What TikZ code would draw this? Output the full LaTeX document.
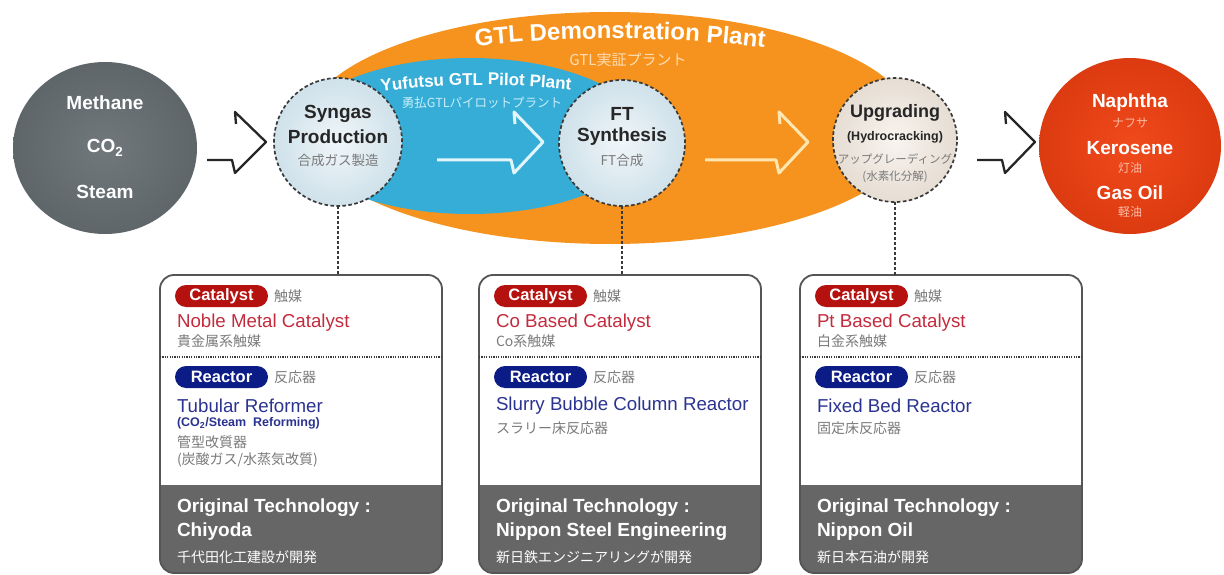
\documentclass[tikz,border=0pt]{standalone}
\usepackage{fontspec}
\setmainfont{Liberation Sans}
\newfontfamily\jp{Noto Sans CJK JP}
\usetikzlibrary{shapes.geometric,decorations.text}
\newcommand\fsz[1]{\fontsize{#1}{#1}\selectfont}

\definecolor{orangeC}{HTML}{F6931E}
\definecolor{blueC}{HTML}{36ADD6}
\definecolor{srcIn}{HTML}{70787C}
\definecolor{srcOut}{HTML}{5E666A}
\definecolor{prodIn}{HTML}{F04A1C}
\definecolor{prodOut}{HTML}{DC3A10}
\definecolor{stageIn}{HTML}{F0F6F9}
\definecolor{stageOut}{HTML}{CFE1EA}
\definecolor{upgIn}{HTML}{F8F4EF}
\definecolor{upgOut}{HTML}{E6DDD3}
\definecolor{dashC}{HTML}{3A3A3A}
\definecolor{darkTxt}{HTML}{262626}
\definecolor{jpGray}{HTML}{7A7A7A}
\definecolor{pillRed}{HTML}{B5120F}
\definecolor{pillBlue}{HTML}{0B1C86}
\definecolor{txtRed}{HTML}{C42B3D}
\definecolor{txtBlue}{HTML}{2B3391}
\definecolor{bandC}{HTML}{666666}
\definecolor{boxC}{HTML}{555555}
\definecolor{arrowBlue}{HTML}{E2F5FB}
\definecolor{arrowCream}{HTML}{FEE6B0}
\definecolor{jpCream}{HTML}{FDDDB4}
\definecolor{jpCyan}{HTML}{C8EEF9}
\definecolor{jpSalmon}{HTML}{F9BBA3}

% open (hollow) process arrow: style, shaft start, head base, tip
\newcommand\hollowarrow[4]{%
  \draw[#1] (#2,160) -- (#3,160) -- (#3+3,173) -- (#4,142) -- (#3+3,112) -- (#3+4,124);}

% technology box with dark footer band and dotted divider
\newcommand\techbox[2]{%
  \node[box] (#1) at (#2,275) {};
  \begin{scope}
    \clip[rounded corners=14pt] (#1.north west) rectangle (#1.south east);
    \fill[bandC] (#1.south west) rectangle ([yshift=88pt]#1.south east);
  \end{scope}
  \draw[boxC, line width=1.8pt, rounded corners=14pt] (#1.north west) rectangle (#1.south east);
  \draw[dashC, line width=1.1pt, dash pattern=on 1.2pt off 1.2pt] (#1.west |- 0,357) -- (#1.east |- 0,357);}

\begin{document}
\begin{tikzpicture}[x=1pt,y=-1pt,
  every node/.style={inner sep=0pt, outer sep=0pt},
  stage/.style={circle, draw=dashC, line width=1.7pt, dash pattern=on 3.6pt off 2.4pt,
    shading=radial, minimum size=#1},
  ctitle/.style={font=\bfseries\fsz{19}, text=darkTxt},
  wtitle/.style={font=\bfseries\fsz{19}, text=white},
  cjp/.style={font=\jp\fsz{13.5}, text=jpGray},
  box/.style={fill=white, minimum width=282pt, minimum height=298pt, anchor=north west},
  pill/.style={rounded corners=11pt, fill=#1, minimum width=93pt, minimum height=22pt,
    text=white, font=\bfseries\fsz{16.5}, anchor=west},
  bjp/.style={font=\jp\fsz{14}, text=jpGray, anchor=west},
  redline/.style={font=\fsz{18.7}, text=txtRed, anchor=west},
  blueline/.style={font=\fsz{18.7}, text=txtBlue, anchor=west},
  bandhead/.style={font=\bfseries\fsz{19}, text=white, anchor=west},
  bandjp/.style={font=\jp\fsz{14}, text=white, anchor=west},
  conn/.style={dashC, line width=1.6pt, dash pattern=on 3pt off 2pt},
  blackarrow/.style={black!85, line width=2.3pt, line join=round},
  whitearrow/.style={line width=3pt, line join=round}]

\useasboundingbox (0,0) rectangle (1224,575);

% plant envelopes
\node[ellipse, fill=orangeC, minimum width=610pt, minimum height=232pt] (demo) at (610,128) {};
\node[ellipse, fill=blueC, minimum width=350pt, minimum height=156pt] (pilot) at (470,136) {};

% feed and product
\node[ellipse, shading=radial, inner color=srcIn, outer color=srcOut,
  minimum width=184pt, minimum height=172pt] (src) at (105,148) {};
\node[ellipse, shading=radial, inner color=prodIn, outer color=prodOut,
  minimum width=182pt, minimum height=176pt] (prod) at (1130,146) {};

% process stages
\node[stage=128pt, inner color=stageIn, outer color=stageOut] (syn) at (338,142) {};
\node[stage=126pt, inner color=stageIn, outer color=stageOut] (ft) at (622,143) {};
\node[stage=124pt, inner color=upgIn, outer color=upgOut] (upg) at (895,140) {};

% process arrows
\hollowarrow{blackarrow}{207}{232}{266}
\hollowarrow{whitearrow, draw=arrowBlue}{437}{511}{543}
\hollowarrow{whitearrow, draw=arrowCream}{705}{776}{808}
\hollowarrow{blackarrow}{977}{1002}{1035}

% envelope titles
\path[decorate, decoration={text along path, text align=center,
  text={|\fsz{24}\bfseries\color{white}|GTL Demonstration Plant}}]
  (452,49) .. controls (560,35) and (680,35) .. (788,51);
\node[font=\jp\fsz{15}, text=jpCream] (demojp) at (628,60) {GTL実証プラント};
\path[decorate, decoration={text along path, text align=center,
  text={|\fsz{17}\bfseries\color{white}|Yufutsu GTL Pilot Plant}}]
  (380,92) .. controls (444,83) and (508,83) .. (572,90);
\node[font=\jp\fsz{12.5}, text=jpCyan] (pilotjp) at (482,103) {勇払GTLパイロットプラント};

% feed labels
\node[wtitle] (s1) at (105,103) {Methane};
\node[wtitle] (s2) at (105,148) {CO\textsubscript{2}};
\node[wtitle] (s3) at (105,192) {Steam};

% stage labels
\node[ctitle] (a1) at (338,114) {Syngas};
\node[ctitle] (a2) at (338,137) {Production};
\node[cjp] (a3) at (338,160) {合成ガス製造};
\node[ctitle] (f1) at (622,114) {FT};
\node[ctitle] (f2) at (622,137) {Synthesis};
\node[cjp] (f3) at (622,160) {FT合成};
\node[ctitle, font=\bfseries\fsz{18}] (u1) at (895,113) {Upgrading};
\node[font=\bfseries\fsz{12.5}, text=darkTxt] (u2) at (895,137) {(Hydrocracking)};
\node[cjp, font=\jp\fsz{11.5}] (u3) at (895,159) {アップグレーディング};
\node[cjp, font=\jp\fsz{11.5}] (u4) at (895,177) {(水素化分解)};

% product labels
\node[wtitle] (p1) at (1130,103) {Naphtha};
\node[font=\jp\fsz{12}, text=jpSalmon] (p2) at (1130,123) {ナフサ};
\node[wtitle] (p3) at (1130,148) {Kerosene};
\node[font=\jp\fsz{12}, text=jpSalmon] (p4) at (1130,168) {灯油};
\node[wtitle] (p5) at (1130,193) {Gas Oil};
\node[font=\jp\fsz{12}, text=jpSalmon] (p6) at (1130,212) {軽油};

% technology boxes
\techbox{b1}{160}
\techbox{b2}{479}
\techbox{b3}{800}

\draw[conn] (syn.south) -- (syn.south |- b1.north);
\draw[conn] (ft.south) -- (ft.south |- b2.north);
\draw[conn] (upg.south) -- (upg.south |- b3.north);

% box 1
\node[pill=pillRed] (c1) at (175,296) {Catalyst};
\node[bjp] (c1j) at (274,296) {触媒};
\node[redline] (c1a) at (177,323) {Noble Metal Catalyst};
\node[bjp] (c1b) at (177,341) {貴金属系触媒};
\node[pill=pillBlue] (r1) at (175,377) {Reactor};
\node[bjp] (r1j) at (274,377) {反応器};
\node[blueline] (r1a) at (177,406) {Tubular Reformer};
\node[font=\bfseries\fsz{12.5}, text=txtBlue, anchor=west] (r1b) at (177,423) {(CO\textsubscript{2}/Steam\ \ Reforming)};
\node[bjp] (r1c) at (177,442) {管型改質器};
\node[bjp] (r1d) at (177,460) {(炭酸ガス/水蒸気改質)};
\node[bandhead] (o1a) at (177,508) {Original Technology :};
\node[bandhead] (o1b) at (177,532) {Chiyoda};
\node[bandjp] (o1c) at (177,557) {千代田化工建設が開発};

% box 2
\node[pill=pillRed] (c2) at (494,296) {Catalyst};
\node[bjp] (c2j) at (593,296) {触媒};
\node[redline] (c2a) at (496,323) {Co Based Catalyst};
\node[bjp] (c2b) at (496,341) {Co系触媒};
\node[pill=pillBlue] (r2) at (494,377) {Reactor};
\node[bjp] (r2j) at (593,377) {反応器};
\node[blueline] (r2a) at (496,406) {Slurry Bubble Column Reactor};
\node[bjp] (r2c) at (496,428) {スラリー床反応器};
\node[bandhead] (o2a) at (496,508) {Original Technology :};
\node[bandhead] (o2b) at (496,532) {Nippon Steel Engineering};
\node[bandjp] (o2c) at (496,557) {新日鉄エンジニアリングが開発};

% box 3
\node[pill=pillRed] (c3) at (815,296) {Catalyst};
\node[bjp] (c3j) at (914,296) {触媒};
\node[redline] (c3a) at (817,323) {Pt Based Catalyst};
\node[bjp] (c3b) at (817,341) {白金系触媒};
\node[pill=pillBlue] (r3) at (815,377) {Reactor};
\node[bjp] (r3j) at (914,377) {反応器};
\node[blueline] (r3a) at (817,406) {Fixed Bed Reactor};
\node[bjp] (r3c) at (817,428) {固定床反応器};
\node[bandhead] (o3a) at (817,508) {Original Technology :};
\node[bandhead] (o3b) at (817,532) {Nippon Oil};
\node[bandjp] (o3c) at (817,557) {新日本石油が開発};

\end{tikzpicture}
\end{document}
